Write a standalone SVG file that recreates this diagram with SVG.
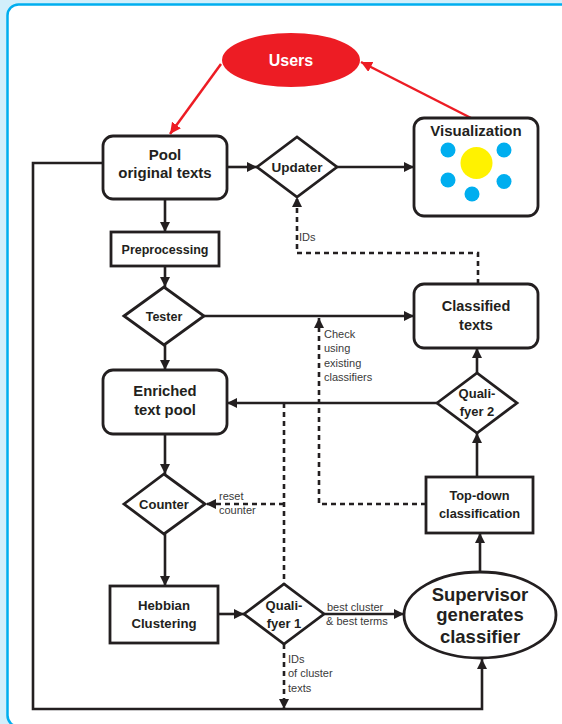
<svg xmlns="http://www.w3.org/2000/svg" width="562" height="724" viewBox="0 0 562 724">
<defs>
<marker id="ah" markerUnits="userSpaceOnUse" markerWidth="11" markerHeight="11" refX="10" refY="5" orient="auto"><path d="M0,0 L10,5 L0,10 z" fill="#231f20"/></marker>
<marker id="ahr" markerUnits="userSpaceOnUse" markerWidth="12" markerHeight="12" refX="11" refY="5.5" orient="auto"><path d="M0,0 L11,5.5 L0,11 z" fill="#ed1c24"/></marker>
<style>
.box{fill:#fff;stroke:#231f20;stroke-width:2.8}
.ln{fill:none;stroke:#231f20;stroke-width:2.6}
.dl{fill:none;stroke:#231f20;stroke-width:2.6;stroke-dasharray:5 4}
.rl{fill:none;stroke:#ed1c24;stroke-width:2.5}
.t{font-family:"Liberation Sans",Arial,sans-serif;font-weight:bold;fill:#231f20;text-anchor:middle}
.s{font-family:"Liberation Sans",Arial,sans-serif;fill:#3a3a3a;font-size:11px}
</style>
</defs>
<rect x="0" y="0" width="562" height="724" fill="#d2effb"/>
<rect x="7.5" y="4.5" width="580" height="722" rx="11" fill="#fff" stroke="#00aeef" stroke-width="2.5"/>

<g id="connectors">
<line class="rl" x1="221" y1="64" x2="170" y2="134" marker-end="url(#ahr)"/>
<line class="rl" x1="471" y1="118" x2="361" y2="62" marker-end="url(#ahr)"/>
<line class="ln" x1="227" y1="167" x2="257" y2="167" marker-end="url(#ah)"/>
<line class="ln" x1="337" y1="167" x2="414" y2="167" marker-end="url(#ah)"/>
<line class="ln" x1="165" y1="199" x2="165" y2="232" marker-end="url(#ah)"/>
<line class="ln" x1="165" y1="266" x2="165" y2="287" marker-end="url(#ah)"/>
<line class="ln" x1="204" y1="316" x2="414" y2="316" marker-end="url(#ah)"/>
<line class="ln" x1="165" y1="345" x2="165" y2="370" marker-end="url(#ah)"/>
<line class="ln" x1="437" y1="403" x2="227" y2="403" marker-end="url(#ah)"/>
<line class="ln" x1="165" y1="434" x2="165" y2="474" marker-end="url(#ah)"/>
<line class="ln" x1="165" y1="534" x2="165" y2="586" marker-end="url(#ah)"/>
<line class="ln" x1="218" y1="614" x2="244" y2="614" marker-end="url(#ah)"/>
<line class="ln" x1="324" y1="614" x2="404" y2="614" marker-end="url(#ah)"/>
<line class="ln" x1="480" y1="572" x2="480" y2="533" marker-end="url(#ah)"/>
<line class="ln" x1="477" y1="477" x2="477" y2="433" marker-end="url(#ah)"/>
<line class="ln" x1="477" y1="373" x2="477" y2="348" marker-end="url(#ah)"/>
<path class="ln" d="M103,163 H33 V709 H482 V659" marker-end="url(#ah)"/>
<path class="dl" d="M478,284 V253 H297 V197" marker-end="url(#ah)"/>
<path class="dl" d="M426,504 H319 V318" marker-end="url(#ah)"/>
<path class="dl" d="M284,403 V584"/>
<path class="dl" d="M284,504 H206" marker-end="url(#ah)"/>
<path class="dl" d="M284,644 V709" marker-end="url(#ah)"/>
<text class="s" x="299" y="241">IDs</text>
<text class="s" x="324" y="337.5" font-size="10.8">Check</text>
<text class="s" x="324" y="352" font-size="10.8">using</text>
<text class="s" x="324" y="366.5" font-size="10.8">existing</text>
<text class="s" x="324" y="381" font-size="10.8">classifiers</text>
<text class="s" x="219" y="500">reset</text>
<text class="s" x="219" y="514">counter</text>
<text class="s" x="327" y="610.5">best cluster</text>
<text class="s" x="326" y="624.5">&amp; best terms</text>
<text class="s" x="288" y="663">IDs</text>
<text class="s" x="288" y="677">of cluster</text>
<text class="s" x="288" y="692">texts</text>
</g>

<g id="users">
<ellipse cx="291" cy="60" rx="69" ry="27" fill="#ed1c24"/>
<text class="t" x="291" y="65.5" font-size="16" style="fill:#fff">Users</text>
</g>

<g id="pool">
<rect class="box" x="103" y="136" width="124" height="63" rx="10"/>
<text class="t" x="165" y="160" font-size="15">Pool</text>
<text class="t" x="165" y="178" font-size="15">original texts</text>
</g>

<g id="updater">
<polygon class="box" points="257,167 297,137 337,167 297,197"/>
<text class="t" x="297" y="172" font-size="13.5">Updater</text>
</g>

<g id="visualization">
<rect class="box" x="414" y="118" width="124" height="98" rx="10"/>
<text class="t" x="476" y="136" font-size="15">Visualization</text>
<circle cx="476.5" cy="163" r="16" fill="#fff200"/>
<circle cx="448" cy="150" r="7.5" fill="#00aeef"/>
<circle cx="504" cy="150" r="7.5" fill="#00aeef"/>
<circle cx="448" cy="180" r="7.5" fill="#00aeef"/>
<circle cx="504" cy="181.5" r="7.5" fill="#00aeef"/>
<circle cx="472" cy="194" r="7.5" fill="#00aeef"/>
</g>

<g id="preprocessing">
<rect class="box" x="111" y="232" width="108" height="34"/>
<text class="t" x="165" y="253.5" font-size="12.5">Preprocessing</text>
</g>

<g id="tester">
<polygon class="box" points="124,316 164,287 204,316 164,345"/>
<text class="t" x="164" y="320.5" font-size="12.5">Tester</text>
</g>

<g id="classified">
<rect class="box" x="414" y="284" width="124" height="64" rx="10"/>
<text class="t" x="476" y="311" font-size="14.5">Classified</text>
<text class="t" x="476" y="330" font-size="14.5">texts</text>
</g>

<g id="enriched">
<rect class="box" x="103" y="370" width="124" height="64" rx="10"/>
<text class="t" x="165" y="396" font-size="14.8">Enriched</text>
<text class="t" x="165" y="415" font-size="14.8">text pool</text>
</g>

<g id="qualifyer2">
<polygon class="box" points="437,403 477,373 517,403 477,433"/>
<text class="t" x="477" y="398" font-size="13">Quali-</text>
<text class="t" x="477" y="415.5" font-size="13">fyer 2</text>
</g>

<g id="counter">
<polygon class="box" points="124,504 164,474 205,504 164,534"/>
<text class="t" x="164" y="509" font-size="13">Counter</text>
</g>

<g id="topdown">
<rect class="box" x="426" y="477" width="107" height="56"/>
<text class="t" x="479.5" y="500" font-size="12.8">Top-down</text>
<text class="t" x="479.5" y="517.5" font-size="12.8">classification</text>
</g>

<g id="hebbian">
<rect class="box" x="110" y="586" width="108" height="57"/>
<text class="t" x="164" y="610" font-size="13.2">Hebbian</text>
<text class="t" x="164" y="628" font-size="13.2">Clustering</text>
</g>

<g id="qualifyer1">
<polygon class="box" points="244,614 284,584 324,614 284,644"/>
<text class="t" x="284" y="610" font-size="13">Quali-</text>
<text class="t" x="284" y="627.5" font-size="13">fyer 1</text>
</g>

<g id="supervisor">
<ellipse class="box" cx="480" cy="615" rx="76" ry="43"/>
<text class="t" x="480" y="601" font-size="18.5">Supervisor</text>
<text class="t" x="480" y="621" font-size="18.5">generates</text>
<text class="t" x="480" y="643" font-size="18.5">classifier</text>
</g>
</svg>
